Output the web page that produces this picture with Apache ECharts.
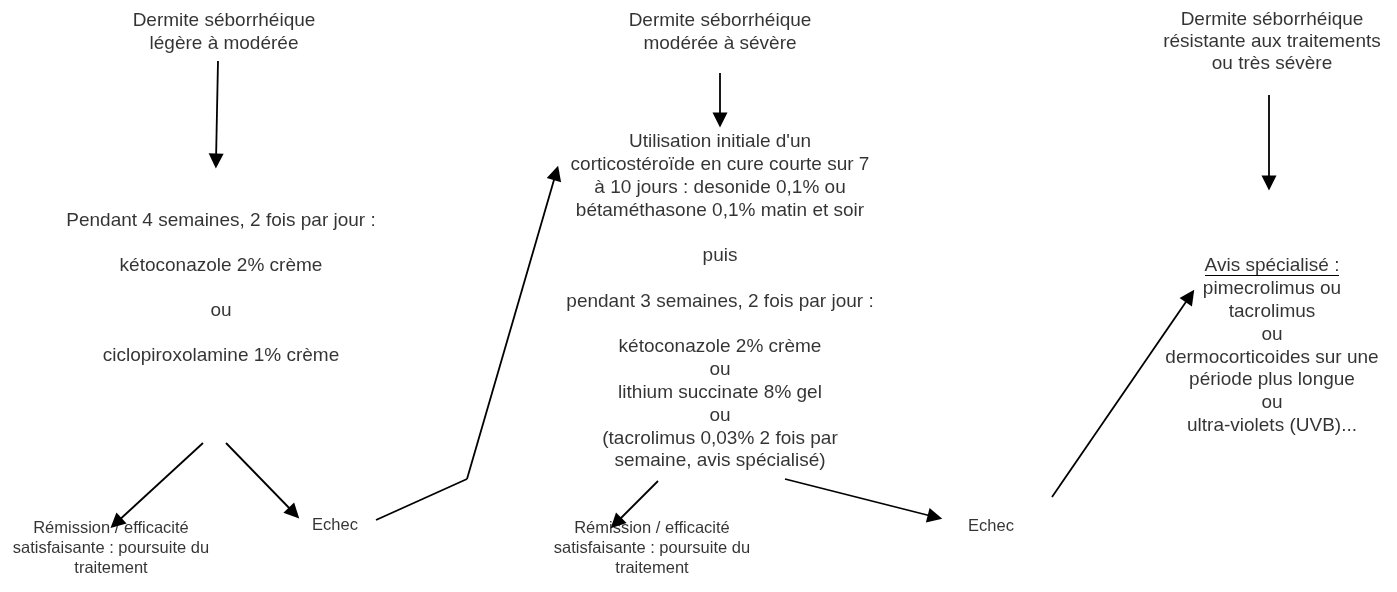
<!DOCTYPE html>
<html><head><meta charset="utf-8">
<script src="https://cdn.jsdelivr.net/npm/echarts@6/dist/echarts.min.js"></script>
<style>html,body{margin:0;padding:0;background:#fff}#c{width:1397px;height:592px}</style>
</head><body><div id="c"></div>
<script>
// Flowchart content
const nodeTexts = [
  "Dermite séborrhéique\nlégère à modérée",
  "Pendant 4 semaines, 2 fois par jour :\n\nkétoconazole 2% crème\n\nou\n\nciclopiroxolamine 1% crème",
  "Rémission / efficacité\nsatisfaisante : poursuite du\ntraitement",
  "Echec",
  "Dermite séborrhéique\nmodérée à sévère",
  "Utilisation initiale d'un\ncorticostéroïde en cure courte sur 7\nà 10 jours : desonide 0,1% ou\nbétaméthasone 0,1% matin et soir\n\npuis\n\npendant 3 semaines, 2 fois par jour :\n\nkétoconazole 2% crème\nou\nlithium succinate 8% gel\nou\n(tacrolimus 0,03% 2 fois par\nsemaine, avis spécialisé)",
  "Rémission / efficacité\nsatisfaisante : poursuite du\ntraitement",
  "Echec",
  "Dermite séborrhéique\nrésistante aux traitements\nou très sévère",
  "Avis spécialisé :\npimecrolimus ou\ntacrolimus\nou\ndermocorticoides sur une\npériode plus longue\nou\nultra-violets (UVB)..."
];
// layout: centre x, centre y of each text block
const nodeX = [224, 221, 111, 335, 720, 720, 652, 991, 1272, 1272];
const nodeY = [32, 288, 548, 525, 32, 301.5, 548, 526, 42, 346];
const nodeFont = [19, 19, 16.5, 16.5, 19, 19, 16.5, 16.5, 19, 19];
const nodeLH = [23, 22.5, 20, 20, 23, 22.8, 20, 20, 22, 22.8];
// arrows (polylines), the last point gets the arrowhead
const arrows = [
  [[218, 61], [216, 161]],
  [[203, 443], [116, 523]],
  [[226, 443], [294, 513]],
  [[376, 520], [467, 479], [556, 173]],
  [[720, 73], [720, 120]],
  [[658, 481], [616, 523]],
  [[785, 479], [935, 517]],
  [[1269, 95], [1269, 183]],
  [[1052, 497], [1190, 296]]
];
const underline = [[1205, 275], [1339, 275]];

// split polylines into plain segments + final arrow segment
const plainSegs = [];
const arrowSegs = [];
arrows.forEach(p => {
  for (let i = 0; i < p.length - 2; i++) plainSegs.push([p[i], p[i + 1]]);
  arrowSegs.push([p[p.length - 2], p[p.length - 1]]);
});

const chart = echarts.init(document.getElementById('c'), null, {renderer: 'canvas'});
const fam = '"Liberation Sans", Arial, sans-serif';
chart.setOption({
  animation: false,
  backgroundColor: '#fff',
  grid: {left: 0, right: 0, top: 0, bottom: 0},
  xAxis: {type: 'value', min: 0, max: 1397, show: false},
  yAxis: {type: 'value', min: 0, max: 592, inverse: true, show: false},
  series: [
    {
      type: 'lines', coordinateSystem: 'cartesian2d',
      symbol: ['none', 'triangle'], symbolSize: 15,
      lineStyle: {color: '#000', width: 1.8, opacity: 1},
      data: arrowSegs.map(c => ({coords: c}))
    },
    {
      type: 'lines', coordinateSystem: 'cartesian2d',
      symbol: ['none', 'none'],
      lineStyle: {color: '#000', width: 1.8, opacity: 1},
      data: plainSegs.map(c => ({coords: c}))
    },
    {
      type: 'lines', coordinateSystem: 'cartesian2d',
      symbol: ['none', 'none'],
      lineStyle: {color: '#000', width: 1.1, opacity: 1},
      data: [{coords: underline}]
    },
    {
      type: 'scatter', symbolSize: 0, silent: true,
      data: nodeTexts.map((t, i) => ({
        value: [nodeX[i], nodeY[i]],
        label: {
          show: true, position: 'inside', formatter: t,
          fontSize: nodeFont[i], lineHeight: nodeLH[i],
          color: '#000', fontFamily: fam, align: 'center', verticalAlign: 'middle'
        }
      }))
    }
  ]
});
</script></body></html>
